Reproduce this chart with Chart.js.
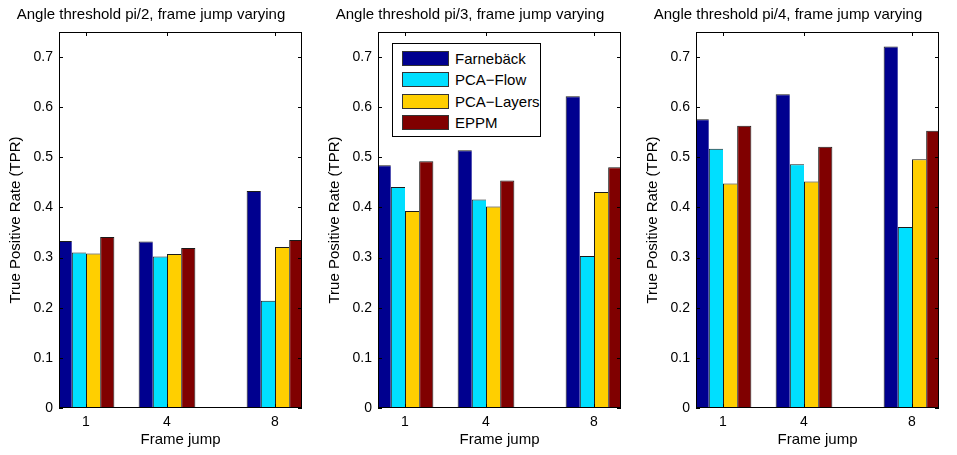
<!DOCTYPE html>
<html>
<head>
<meta charset="utf-8">
<script src="https://cdn.jsdelivr.net/npm/chart.js@4.4.0/dist/chart.umd.min.js"></script>
<style>
  html, body { margin: 0; padding: 0; background: #fff; }
  #wrap { position: relative; width: 957px; height: 455px; overflow: hidden; font-family: "Liberation Sans", Arial, sans-serif; }
  canvas { position: absolute; top: 0; }
  #legend { position: absolute; left: 392px; top: 43px; width: 147px; height: 92px; border: 1px solid #000; background: #fff; }
  .row { position: absolute; left: 9px; height: 15px; font-size: 15px; line-height: 15px; color: #000; }
  .sw { position: absolute; left: 0; top: 0; width: 45px; height: 13px; border: 1px solid #333; }
  .lab { position: absolute; left: 53px; top: 0; white-space: nowrap; }
</style>
</head>
<body>
<div id="wrap">
  <canvas id="c1" width="361" height="455" style="left:0px"></canvas>
  <canvas id="c2" width="361" height="455" style="left:319px"></canvas>
  <canvas id="c3" width="361" height="455" style="left:637px"></canvas>
  <div id="legend"></div>
</div>
<script>
// frame jumps on the x axis, and the methods compared
const frameJumps = [1, 4, 8];
const methods = ['Farnebäck', 'PCA−Flow', 'PCA−Layers', 'EPPM'];
const colors = ['#00008f', '#00dfff', '#ffcf00', '#800000'];
const yTickValues = [0, 0.1, 0.2, 0.3, 0.4, 0.5, 0.6, 0.7];

const titles = [
  'Angle threshold pi/2, frame jump varying',
  'Angle threshold pi/3, frame jump varying',
  'Angle threshold pi/4, frame jump varying'
];

// TPR at frame jump 1, 4, 8 -- angle threshold pi/2
const farnebackPi2 = [0.333, 0.332, 0.433];
const pcaFlowPi2   = [0.310, 0.302, 0.214];
const pcaLayersPi2 = [0.308, 0.307, 0.321];
const eppmPi2      = [0.341, 0.319, 0.335];

// angle threshold pi/3
const farnebackPi3 = [0.484, 0.514, 0.622];
const pcaFlowPi3   = [0.441, 0.416, 0.303];
const pcaLayersPi3 = [0.393, 0.402, 0.431];
const eppmPi3      = [0.492, 0.454, 0.480];

// angle threshold pi/4
const farnebackPi4 = [0.576, 0.626, 0.721];
const pcaFlowPi4   = [0.517, 0.486, 0.361];
const pcaLayersPi4 = [0.448, 0.452, 0.496];
const eppmPi4      = [0.563, 0.521, 0.553];

const FONT = '"Liberation Sans", Arial, Helvetica, sans-serif';

// box around the axes plus inward ticks on all four sides, matlab style
const matlabAxes = {
  id: 'matlabAxes',
  afterDatasetsDraw(chart) {
    const ctx = chart.ctx;
    const a = chart.chartArea;
    const x = chart.scales.x, y = chart.scales.y;
    const L = Math.round(a.left), R = Math.round(a.right);
    const T = Math.round(a.top), B = Math.round(a.bottom);
    ctx.save();
    ctx.strokeStyle = '#000';
    ctx.lineWidth = 1;
    ctx.beginPath();
    y.ticks.forEach(t => {
      const py = Math.round(y.getPixelForValue(t.value)) + 0.5;
      ctx.moveTo(L, py); ctx.lineTo(L + 4, py);
      ctx.moveTo(R, py); ctx.lineTo(R - 4, py);
    });
    x.ticks.forEach(t => {
      const px = Math.round(x.getPixelForValue(t.value)) + 0.5;
      ctx.moveTo(px, B); ctx.lineTo(px, B - 4);
      ctx.moveTo(px, T); ctx.lineTo(px, T + 4);
    });
    ctx.stroke();
    ctx.strokeRect(L + 0.5, T + 0.5, R - L - 1, B - T - 1);
    ctx.restore();
  }
};

// canvas is 361 wide so the title (full width) is centred over the axes
function graficaBarras(id, title, series) {
  const ctx = document.getElementById(id).getContext('2d');
  return new Chart(ctx, {
    type: 'bar',
    data: {
      datasets: methods.map((m, k) => ({
        label: m,
        data: frameJumps.map((f, i) => ({ x: f, y: series[k][i] })),
        backgroundColor: colors[k],
        borderColor: '#1a1a1a',
        borderWidth: { top: 1, left: 1, right: k === 3 ? 1 : 0, bottom: 0 },
        categoryPercentage: 0.7,
        barPercentage: 1,
        clip: 0
      }))
    },
    options: {
      responsive: false,
      animation: false,
      events: [],
      layout: { padding: { left: 0, right: 59, top: 0, bottom: 0 } },
      plugins: {
        legend: { display: false },
        tooltip: { enabled: false },
        title: {
          display: true, text: title, color: '#000',
          font: { family: FONT, size: 15, weight: 'normal' },
          padding: { top: 6, bottom: 8 }
        }
      },
      scales: {
        x: {
          type: 'linear', offset: false, min: 0, max: 9,
          grid: { display: false, drawTicks: false },
          border: { display: false },
          afterBuildTicks: s => { s.ticks = frameJumps.map(v => ({ value: v })); },
          afterFit: s => { s.height = 47; },
          ticks: { color: '#000', font: { family: FONT, size: 14 }, padding: 6, callback: v => String(v) },
          title: { display: true, text: 'Frame jump', color: '#000', font: { family: FONT, size: 15 }, padding: { top: 0, bottom: 6 } }
        },
        y: {
          min: 0, max: 0.75,
          grid: { display: false, drawTicks: false },
          border: { display: false },
          afterBuildTicks: s => { s.ticks = yTickValues.map(v => ({ value: v })); },
          afterFit: s => { s.width = 59; },
          ticks: { color: '#000', font: { family: FONT, size: 14 }, padding: 6, callback: v => String(v) },
          title: { display: true, text: 'True Positive Rate (TPR)', color: '#000', font: { family: FONT, size: 15 }, padding: { top: 7, bottom: 0 } }
        }
      }
    },
    plugins: [matlabAxes]
  });
}

graficaBarras('c1', titles[0], [farnebackPi2, pcaFlowPi2, pcaLayersPi2, eppmPi2]);
graficaBarras('c2', titles[1], [farnebackPi3, pcaFlowPi3, pcaLayersPi3, eppmPi3]);
graficaBarras('c3', titles[2], [farnebackPi4, pcaFlowPi4, pcaLayersPi4, eppmPi4]);

// legend inside the middle plot
const legend = document.getElementById('legend');
const rowTops = [7, 28, 50, 71];
methods.forEach((m, k) => {
  const row = document.createElement('div');
  row.className = 'row';
  row.style.top = rowTops[k] + 'px';
  row.innerHTML = '<div class="sw" style="background:' + colors[k] + '"></div><div class="lab">' + m + '</div>';
  legend.appendChild(row);
});
</script>
</body>
</html>
